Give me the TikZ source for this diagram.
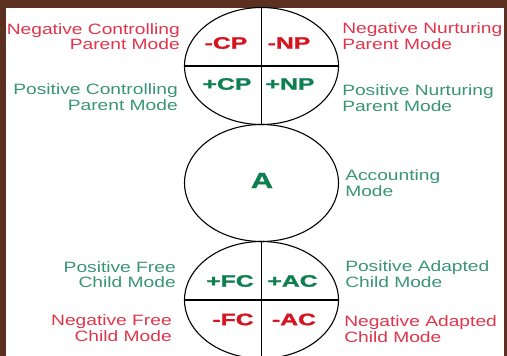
\documentclass[tikz,border=0pt]{standalone}
\usepackage{fontspec}
\setmainfont{Liberation Sans}
\newfontfamily\codefont[FakeBold=1.2]{Liberation Sans Bold}
\usetikzlibrary{shapes.geometric}
\definecolor{frame}{HTML}{5C3020}
\definecolor{negred}{HTML}{E0354B}
\definecolor{posgreen}{HTML}{3A9577}
\definecolor{codered}{HTML}{D6141F}
\definecolor{codegreen}{HTML}{0E7F50}
\tikzset{
  mode/.style={ellipse,draw,line width=1.1pt,minimum width=154pt,minimum height=117pt,inner sep=0pt},
  lbl/.style={inner sep=0pt,xscale=1.28,font=\fontsize{15}{15.3}\selectfont},
  lleft/.style={lbl,anchor=east,align=right},
  lright/.style={lbl,anchor=west,align=left},
  code/.style={inner sep=0pt,xscale=1.5,font=\fontsize{16.5}{18}\codefont}
}

\begin{document}
\begin{tikzpicture}[x=1pt,y=1pt]
  \useasboundingbox (0,0) rectangle (507,356);
  \fill[frame] (0,0) rectangle (507,356);
  \fill[white] (6,0) rectangle (504,348);
  % the three ego state circles
  \node[mode] (P) at (261.5,290) {};
  \node[mode] (A) at (261.5,173) {};
  \node[mode] (C) at (261.5,56) {};
  \draw[line width=1.1pt] (P.north) -- (P.south) (P.west) -- (P.east);
  \draw[line width=1.1pt] (C.north) -- (C.south) (C.west) -- (C.east);
  % mode codes
  \node[code,codered] (nCP) at (226,313) {-CP};
  \node[code,codered] (nNP) at (289,313) {-NP};
  \node[code,codegreen] (pCP) at (227,272) {+CP};
  \node[code,codegreen] (pNP) at (290,272) {+NP};
  \node[code,codegreen,xscale=1.4/1.5,font=\fontsize{22}{24}\codefont] (acc) at (262,175.5) {A};
  \node[code,codegreen] (pFC) at (230,75) {+FC};
  \node[code,codegreen] (pAC) at (292.5,75) {+AC};
  \node[code,codered] (nFC) at (233,36.5) {-FC};
  \node[code,codered] (nAC) at (294,36.5) {-AC};
  % mode names
  \node[lleft,negred] (nCPtxt) at (180,319.7) {Negative Controlling\\Parent Mode};
  \node[lleft,posgreen] (pCPtxt) at (178,259) {Positive Controlling\\Parent Mode};
  \node[lleft,posgreen] (pFCtxt) at (176,81.5) {Positive Free\\Child Mode};
  \node[lleft,negred] (nFCtxt) at (172,28) {Negative Free\\Child Mode};
  \node[lright,negred] (nNPtxt) at (342,320) {Negative Nurturing\\Parent Mode};
  \node[lright,posgreen] (pNPtxt) at (342,258) {Positive Nurturing\\Parent Mode};
  \node[lright,posgreen] (acctxt) at (345,173) {Accounting\\Mode};
  \node[lright,posgreen] (pACtxt) at (345,82) {Positive Adapted\\Child Mode};
  \node[lright,negred] (nACtxt) at (344,27) {Negative Adapted\\Child Mode};
\end{tikzpicture}
\end{document}
